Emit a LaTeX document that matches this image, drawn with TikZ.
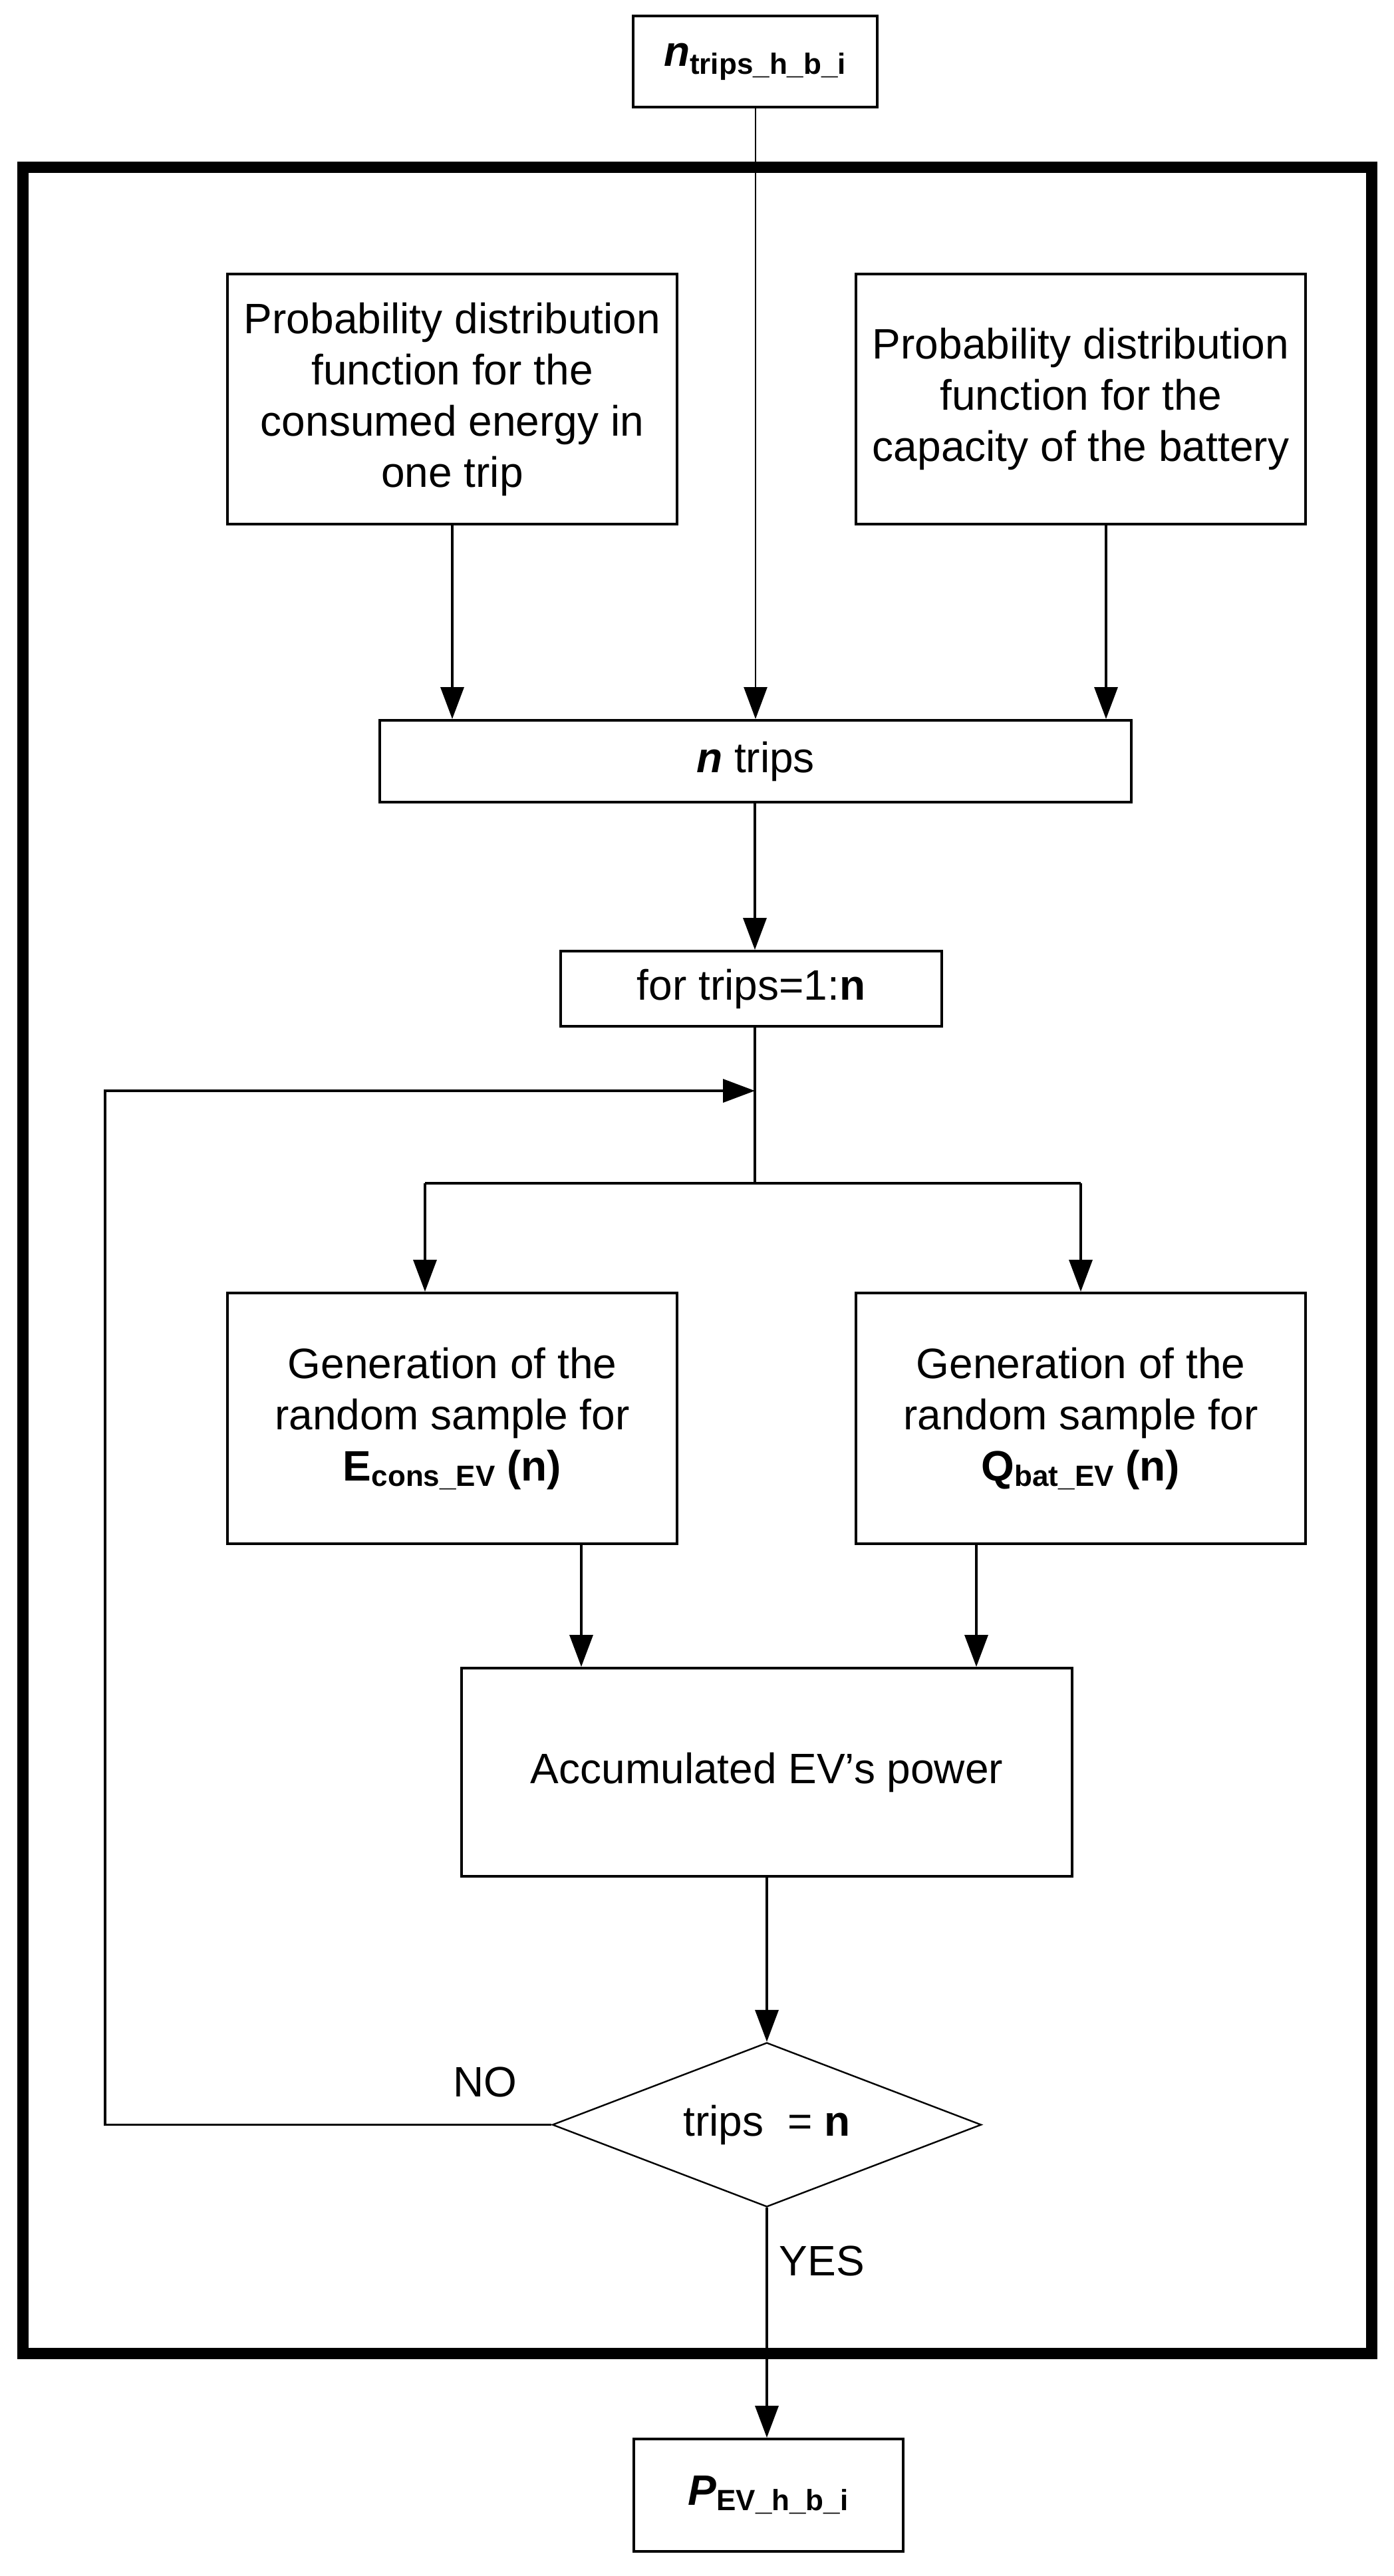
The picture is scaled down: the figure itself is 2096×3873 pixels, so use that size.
\documentclass[tikz,border=0pt]{standalone}
\usepackage{fontspec}
\setmainfont{Liberation Sans}
\usetikzlibrary{arrows.meta,shapes.geometric,calc}
\newcommand{\subtxt}[2][2pt]{\raisebox{-#1}{\fontsize{11}{13}\selectfont\bfseries #2}}
\begin{document}
\begin{tikzpicture}[x=0.25pt,y=-0.25pt,
  box/.style={draw, line width=1pt, inner sep=0pt, align=center, font=\fontsize{16}{19.25}\selectfont},
  lbl/.style={inner sep=0pt, font=\fontsize{16}{19.25}\selectfont},
  conn/.style={line width=0.9pt},
  arr/.style={line width=0.9pt, -{Triangle[length=12pt,width=8.75pt]}}]
\useasboundingbox (0,0) rectangle (2096,3873);
% outer frame
\draw[line width=4.25pt] (34,252) rectangle (2062,3538);
% nodes
\node[box, minimum width=91.75pt, minimum height=34.25pt] (top) at (1135,93)
  {{\bfseries\itshape n}\subtxt[3pt]{trips\_h\_b\_i}};
\node[box, minimum width=169pt, minimum height=94pt] (pdf1) at (680,600)
  {Probability distribution\\function for the\\consumed energy in\\one trip};
\node[box, minimum width=169pt, minimum height=94pt] (pdf2) at (1625,600)
  {Probability distribution\\function for the\\capacity of the battery};
\node[box, minimum width=282.5pt, minimum height=30.75pt] (ntrips) at (1136,1144.5)
  {{\bfseries\itshape n} trips};
\node[box, minimum width=143.25pt, minimum height=28.25pt] (for) at (1129.5,1486.5)
  {for trips=1:\textbf{n}};
\node[box, minimum width=169pt, minimum height=94.25pt] (gen1) at (680,2132.5)
  {Generation of the\\random sample for\\\textbf{E}\subtxt{cons\_EV}\textbf{ (n)}};
\node[box, minimum width=169pt, minimum height=94.25pt] (gen2) at (1625,2132.5)
  {Generation of the\\random sample for\\\textbf{Q}\subtxt{bat\_EV}\textbf{ (n)}};
\node[box, minimum width=229.5pt, minimum height=78.25pt] (accum) at (1153,2664.5)
  {Accumulated EV’s power};
\node[draw, diamond, line width=0.6pt, inner sep=0pt, aspect=2.6,
      minimum width=161.25pt, minimum height=61.75pt,
      font=\fontsize{16}{19.25}\selectfont] (dia) at (1153,3194.5)
  {trips\ \ = \textbf{n}};
\node[box, minimum width=101.25pt, minimum height=42.25pt] (pbox) at (1155,3751.5)
  {{\bfseries\itshape P}\subtxt{EV\_h\_b\_i}};
\node[lbl] (no) at (729,3130) {NO};
\node[lbl] (yes) at (1236,3399) {YES};
% helper coordinates
\coordinate (merge) at (1135,1640);
\coordinate (loopL) at (158,1640);
\coordinate (brC) at (1135,1779);
\coordinate (brL) at (639,1779);
\coordinate (brR) at (1625,1779);
\coordinate (ax1) at (874,0);
\coordinate (ax2) at (1468,0);
\coordinate (px2) at (1663,0);
% connectors
\draw[arr, line width=0.7pt] (top.south -| ntrips.north) -- (ntrips.north);
\draw[arr] (pdf1.south) -- (ntrips.north -| pdf1.south);
\draw[arr] (pdf2.south -| px2) -- (ntrips.north -| px2);
\draw[arr] (ntrips.south -| merge) -- (for.north -| merge);
\draw[conn] (for.south -| merge) -- (brC);
\draw[conn] (brL) -- (brR);
\draw[arr] (brL) -- (gen1.north -| brL);
\draw[arr] (brR) -- (gen2.north -| brR);
\draw[arr] (gen1.south -| ax1) -- (accum.north -| ax1);
\draw[arr] (gen2.south -| ax2) -- (accum.north -| ax2);
\draw[arr] (accum.south) -- (dia.north);
\draw[arr] (dia.south) -- (pbox.north -| dia.south);
\draw[arr] (dia.west) -| (loopL) -- (merge);
\end{tikzpicture}
\end{document}
